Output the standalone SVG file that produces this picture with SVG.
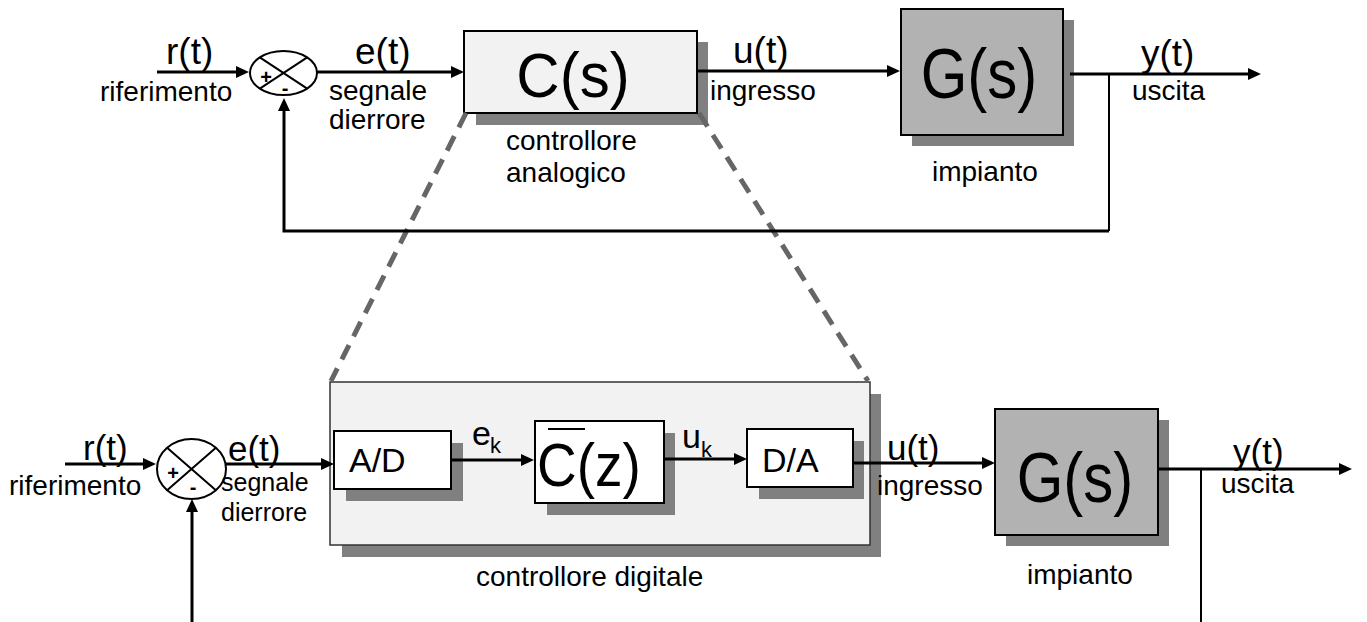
<svg xmlns="http://www.w3.org/2000/svg" width="1367" height="622" viewBox="0 0 1367 622">
<style>
text{font-family:"Liberation Sans",Arial,sans-serif;fill:#000}
.big{font-size:60px}
.mid{font-size:55px}
.lbl{font-size:37px}
.lbl2{font-size:35px}
.box-t{font-size:34px}
.sm{font-size:28px}
.xs{font-size:25px}
.sub{font-size:22px}
.sign{font-size:20px;font-weight:bold}
.wire{stroke:#000;stroke-width:3;fill:none}
.thin{stroke:#000;stroke-width:2;fill:none}
.arr{marker-end:url(#ah)}
.shadow{fill:#808080}
.box{stroke:#000;stroke-width:2}
.light{fill:#f2f2f2}
.white{fill:#fff}
.plant{fill:#b2b2b2}
.sum{fill:#fff;stroke:#000;stroke-width:2}
.dash{stroke:#666;stroke-width:5;stroke-dasharray:16 10;fill:none}
</style>
<defs>
<marker id="ah" markerUnits="userSpaceOnUse" markerWidth="13" markerHeight="12" refX="7" refY="6" orient="auto"><path d="M0,0 L13,6 L0,12 z" fill="#000"/></marker>
</defs>

<g id="Cs">
<rect class="shadow" x="476" y="42" width="232" height="83"/>
<rect class="box light" x="464" y="31" width="233" height="82"/>
<text class="big" transform="translate(573 97) scale(1 1.06)" text-anchor="middle">C(s)</text>
</g>

<g id="Gs1">
<rect class="shadow" x="912" y="20" width="162" height="126"/>
<rect class="box plant" x="901" y="9" width="162" height="126"/>
<text class="big" transform="translate(979 98) scale(1 1.18)" text-anchor="middle">G(s)</text>
</g>

<g id="digital">
<rect class="shadow" x="342" y="394" width="539" height="163"/>
<rect class="light" x="330" y="382" width="540" height="163" stroke="#333" stroke-width="1.5"/>
</g>

<g id="zoomlines">
<path class="dash" d="M466,113 L331,381"/>
<path class="dash" d="M699,113 L868,381"/>
</g>

<g id="sum1">
<ellipse class="sum" cx="283.5" cy="73" rx="33.5" ry="22"/>
<path class="thin" d="M259.8,57.4 L307.2,88.6 M307.2,57.4 L259.8,88.6"/>
<text class="sign" x="266" y="84" text-anchor="middle">+</text>
<text class="sign" x="285" y="95" text-anchor="middle">-</text>
</g>

<g id="sum2">
<ellipse class="sum" cx="191.5" cy="469" rx="34.5" ry="30"/>
<path class="thin" d="M167.1,447.8 L215.9,490.2 M215.9,447.8 L167.1,490.2"/>
<text class="sign" x="173" y="480" text-anchor="middle">+</text>
<text class="sign" x="193" y="494" text-anchor="middle">-</text>
</g>

<g id="AD">
<rect class="shadow" x="346" y="443" width="117" height="58"/>
<rect class="box white" x="334" y="431" width="117" height="58"/>
<text class="box-t" x="349" y="472">A/D</text>
</g>

<g id="Cz">
<rect class="shadow" x="547" y="433" width="128" height="82"/>
<rect class="box white" x="535" y="421" width="129" height="82"/>
<text class="mid" transform="translate(537 486) scale(1 1.12)">C(z)</text>
<path d="M548,429 H585" stroke="#000" stroke-width="2"/>
</g>

<g id="DA">
<rect class="shadow" x="759" y="441" width="105" height="58"/>
<rect class="box white" x="747" y="429" width="106" height="58"/>
<text class="box-t" x="762" y="472">D/A</text>
</g>

<g id="Gs2">
<rect class="shadow" x="1006" y="420" width="163" height="126"/>
<rect class="box plant" x="995" y="409" width="163" height="126"/>
<text class="big" transform="translate(1075 502) scale(1 1.18)" text-anchor="middle">G(s)</text>
</g>

<g id="connectors">
<path class="wire arr" d="M157,72 H243"/>
<path class="wire arr" d="M317,72 H458"/>
<path class="wire arr" d="M697,71 H894"/>
<path class="wire arr" d="M1070,74 H1255"/>
<path class="thin" d="M1109,74 V231"/>
<path class="wire arr" d="M1109,231 H284 V104"/>
<path class="wire arr" d="M65,464 H150"/>
<path class="wire arr" d="M192,622 V505"/>
<path class="wire arr" d="M226,464 H328"/>
<path class="wire arr" d="M451,460 H528"/>
<path class="wire arr" d="M664,459 H741"/>
<path class="wire arr" d="M853,463 H989"/>
<path class="wire arr" d="M1158,469 H1346"/>
<path class="thin" d="M1201,469 V622"/>
</g>

<g id="labels">
<text class="lbl" x="166" y="64">r(t)</text>
<text class="sm" x="100" y="101">riferimento</text>
<text class="lbl" x="355" y="64">e(t)</text>
<text class="sm" x="329" y="100">segnale</text>
<text class="sm" x="329" y="129">dierrore</text>
<text class="sm" x="506" y="150">controllore</text>
<text class="sm" x="506" y="182">analogico</text>
<text class="lbl" x="733" y="63">u(t)</text>
<text class="sm" x="710" y="100">ingresso</text>
<text class="sm" x="932" y="181">impianto</text>
<text class="lbl" x="1141" y="66">y(t)</text>
<text class="sm" x="1132" y="100">uscita</text>

<text class="lbl2" x="83" y="460">r(t)</text>
<text class="sm" x="9" y="495">riferimento</text>
<text class="lbl2" x="228" y="461">e(t)</text>
<text class="xs" x="221" y="491">segnale</text>
<text class="xs" x="221" y="521">dierrore</text>
<text class="box-t" x="472" y="445">e</text>
<text class="sub" x="490" y="453">k</text>
<text class="box-t" x="682" y="448">u</text>
<text class="sub" x="701" y="457">k</text>
<text class="sm" x="476" y="586">controllore digitale</text>
<text class="lbl2" x="887" y="460">u(t)</text>
<text class="sm" x="877" y="495">ingresso</text>
<text class="sm" x="1027" y="584">impianto</text>
<text class="lbl2" x="1233" y="464">y(t)</text>
<text class="sm" x="1221" y="493">uscita</text>
</g>
</svg>
